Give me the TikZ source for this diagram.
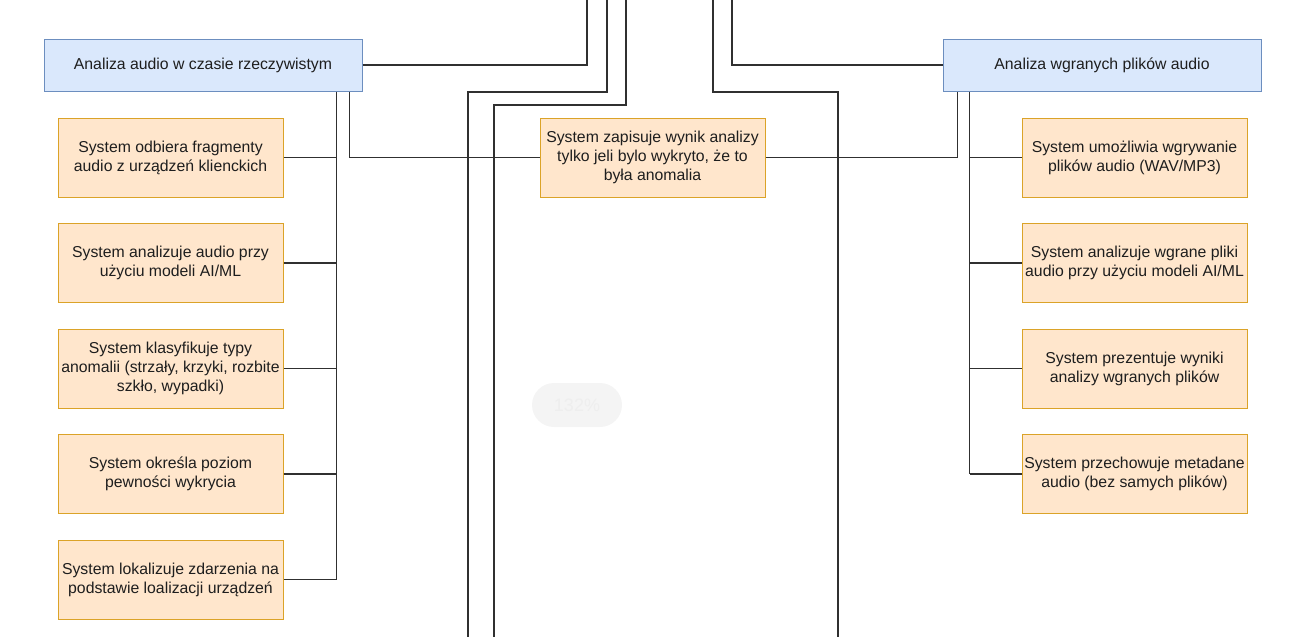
\documentclass[tikz,border=0pt]{standalone}
\usepackage{fontspec}
\setmainfont{Liberation Sans}
\usepackage{xcolor}
\usepackage{tikz}
\definecolor{headfill}{HTML}{DAE8FC}
\definecolor{headline}{HTML}{6C8EBF}
\definecolor{reqfill}{HTML}{FFE6CC}
\definecolor{reqline}{HTML}{DBA328}
\definecolor{linkgrey}{HTML}{303030}
\definecolor{txtgrey}{HTML}{1E1E1E}
\definecolor{pillfill}{HTML}{F4F4F4}
\definecolor{pilltext}{HTML}{EEEEEE}
\tikzset{
	headbox/.style = {draw=headline, fill=headfill, line width=1pt, minimum width=318pt, minimum height=52pt, inner sep=0pt, align=center, text=txtgrey, font=\fontsize{15.8}{19}\selectfont},
	reqbox/.style = {draw=reqline, fill=reqfill, line width=1pt, minimum width=225pt, minimum height=79pt, inner sep=0pt, align=center, text=txtgrey, font=\fontsize{15.8}{19}\selectfont},
	link/.style = {draw=linkgrey, line width=1.3pt},
	pill/.style = {fill=pillfill, rounded corners=22pt, minimum width=90pt, minimum height=44pt, inner sep=0pt, text=pilltext, font=\fontsize{18}{20}\selectfont}
}

\begin{document}
\begin{tikzpicture}[x=1pt, y=-1pt]
	\useasboundingbox (0,0) rectangle (1296,637);
	% headers
	\node[headbox] (live) at (203,65) {Analiza audio w czasie rzeczywistym};
	\node[headbox] (upload) at (1102,65) {Analiza wgranych plików audio};
	% left column
	\node[reqbox] (l1) at (170.5,157.5) {System odbiera fragmenty\\audio z urządzeń klienckich};
	\node[reqbox] (l2) at (170.5,263) {System analizuje audio przy\\użyciu modeli AI/ML};
	\node[reqbox] (l3) at (170.5,368.5) {System klasyfikuje typy\\anomalii (strzały, krzyki, rozbite\\szkło, wypadki)};
	\node[reqbox] (l4) at (170.5,474) {System określa poziom\\pewności wykrycia};
	\node[reqbox] (l5) at (170.5,579.5) {System lokalizuje zdarzenia na\\podstawie loalizacji urządzeń};
	% middle
	\node[reqbox] (store) at (652.5,157.5) {System zapisuje wynik analizy\\tylko jeli bylo wykryto, że to\\była anomalia};
	% right column
	\node[reqbox] (r1) at (1134.5,157.5) {System umożliwia wgrywanie\\plików audio (WAV/MP3)};
	\node[reqbox] (r2) at (1134.5,263) {System analizuje wgrane pliki\\audio przy użyciu modeli AI/ML};
	\node[reqbox] (r3) at (1134.5,368.5) {System prezentuje wyniki\\analizy wgranych plików};
	\node[reqbox] (r4) at (1134.5,474) {System przechowuje metadane\\audio (bez samych plików)};
	\node[pill] (zoom) at (577,405) {132\%};
	% loose ends at the top and bottom edge
	\coordinate (t1) at (587,0);
	\coordinate (t2) at (607,0);
	\coordinate (t3) at (626,0);
	\coordinate (t4) at (713,0);
	\coordinate (t5) at (732,0);
	\coordinate (b1) at (468,637);
	\coordinate (b2) at (494,637);
	\coordinate (b3) at (838,637);
	\coordinate (ltrunk) at ([xshift=-26pt]live.south east);
	\coordinate (rtrunk) at ([xshift=27pt]upload.south west);
	% connectors
	\draw[link] (live.east) -| (t1);
	\draw[link] (t2) -- ++(0,92) -| (b1);
	\draw[link] (t3) -- ++(0,105) -| (b2);
	\draw[link] (t4) -- ++(0,92) -| (b3);
	\draw[link] (t5) |- (upload.west);
	\draw[link] ([xshift=-13pt]live.south east) |- (store.west);
	\draw[link] (store.east) -| ([xshift=15pt]upload.south west);
	\draw[link] (ltrunk) -- (ltrunk |- l5.east);
	\draw[link] (l1.east) -- (l1.east -| ltrunk);
	\draw[link] (l2.east) -- (l2.east -| ltrunk);
	\draw[link] (l3.east) -- (l3.east -| ltrunk);
	\draw[link] (l4.east) -- (l4.east -| ltrunk);
	\draw[link] (l5.east) -- (l5.east -| ltrunk);
	\draw[link] (rtrunk) -- (rtrunk |- r4.west);
	\draw[link] (r1.west) -- (r1.west -| rtrunk);
	\draw[link] (r2.west) -- (r2.west -| rtrunk);
	\draw[link] (r3.west) -- (r3.west -| rtrunk);
	\draw[link] (r4.west) -- (r4.west -| rtrunk);
\end{tikzpicture}
\end{document}
